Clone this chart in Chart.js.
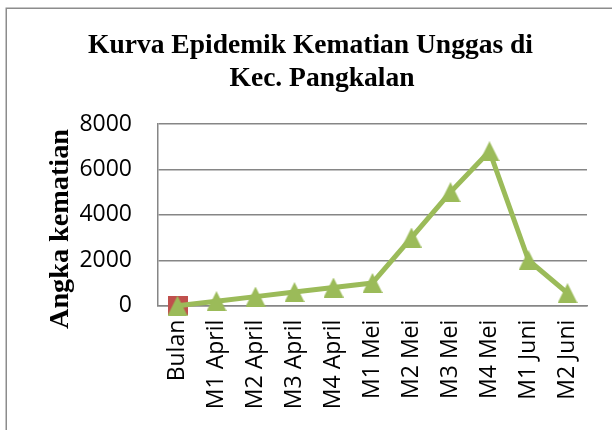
<!DOCTYPE html>
<html><head><meta charset="utf-8">
<script src="https://cdn.jsdelivr.net/npm/chart.js@4/dist/chart.umd.min.js"></script>
<style>html,body{margin:0;padding:0;background:#fff;overflow:hidden}canvas{display:block}</style>
</head><body>
<canvas id="c" width="612" height="430"></canvas>
<script>
const categories = ["Bulan","M1 April","M2 April","M3 April","M4 April","M1 Mei","M2 Mei","M3 Mei","M4 Mei","M1 Juni","M2 Juni"];
const deaths = [0,200,400,600,800,1000,3000,5000,6800,2000,550];
const bulanSeries = [0,null,null,null,null,null,null,null,null,null,null];
const yTickMin = 0, yTickMax = 8000, yTickStep = 2000;
const chartTitle = ["Kurva Epidemik Kematian Unggas di","Kec. Pangkalan"];
const yTitle = "Angka kematian";

const serif = "'Liberation Serif', 'DejaVu Serif', serif";
const sans = "'Open Sans', sans-serif";

function marker(shape, color, w, h){
  const c = document.createElement('canvas'); c.width = w; c.height = h;
  const x = c.getContext('2d'); x.fillStyle = color;
  if (shape === 'tri'){ x.beginPath(); x.moveTo(w/2,0); x.lineTo(w,h); x.lineTo(0,h); x.closePath(); x.fill(); }
  else x.fillRect(0,0,w,h);
  return c;
}

function fitFont(ctx, text, target){
  ctx.font = "bold 20px " + serif;
  const s = 20 * target / ctx.measureText(text).width;
  return "bold " + s.toFixed(2) + "px " + serif;
}

const framePlugin = {
  id:'frame',
  beforeDraw(chart){
    const ctx = chart.ctx; ctx.save();
    ctx.fillStyle = '#fff'; ctx.fillRect(0,0,chart.width,chart.height);
    ctx.strokeStyle = '#8c8c8c'; ctx.lineWidth = 1.5;
    ctx.beginPath(); ctx.moveTo(6.25, 440); ctx.lineTo(6.25, 8.25); ctx.lineTo(620, 8.25); ctx.stroke();
    ctx.restore();
  },
  afterDraw(chart){
    const ctx = chart.ctx; ctx.save();
    ctx.fillStyle = '#000'; ctx.textAlign = 'center'; ctx.textBaseline = 'middle';
    ctx.font = fitFont(ctx, chartTitle[0], 445);
    ctx.fillText(chartTitle[0], 310.5, 46);
    ctx.fillText(chartTitle[1], 322, 79);
    ctx.restore();
    ctx.save();
    ctx.translate(61, 229); ctx.rotate(-Math.PI/2);
    ctx.font = fitFont(ctx, yTitle, 200); ctx.fillStyle = '#000';
    ctx.textAlign = 'center'; ctx.textBaseline = 'middle';
    ctx.fillText(yTitle, 0, 0);
    ctx.restore();
  }
};

function build(){
  const triImg = marker('tri','#9bbb59',20,20);
  const sqImg = marker('sq','#c0504d',20,19);
  new Chart(document.getElementById('c'), {
    type:'line',
    data:{
      labels: categories,
      datasets:[
        {label:'Kematian', data: deaths, borderColor:'#9bbb59', backgroundColor:'#9bbb59', borderWidth:5,
         borderJoinStyle:'round', pointStyle: triImg, pointRadius:10, tension:0, order:0, clip:false},
        {label:'Bulan', data: bulanSeries, showLine:false, pointStyle: sqImg, pointRadius:10, order:1, clip:false,
         borderColor:'#c0504d', backgroundColor:'#c0504d'}
      ]
    },
    options:{
      responsive:false, animation:false, devicePixelRatio:1,
      layout:{padding:{left:0,right:25,top:124,bottom:0}},
      plugins:{
        legend:{display:false}, tooltip:{enabled:false},
        title:{display:false}
      },
      scales:{
        x:{ offset:true,
          grid:{display:false, offset:true},
          border:{display:true, color:'#868686', width:1.5},
          ticks:{autoSkip:false, maxRotation:90, minRotation:90, padding:6, color:'#000', font:{family: sans, size:23}},
          afterFit(s){ s.height = 430 - 305.7; }
        },
        y:{ min:yTickMin, max:yTickMax,
          grid:{color:'#868686', lineWidth:1.5, drawTicks:false},
          border:{display:true, color:'#868686', width:1.5},
          ticks:{stepSize:yTickStep, padding:26, color:'#000', font:{family: sans, size:23}, callback: v => String(v)},
          afterFit(s){ s.width = 158; }
        }
      }
    },
    plugins:[framePlugin]
  });
}

Promise.all([
  document.fonts.load("23px 'Open Sans'"),
  document.fonts.load("bold 22px 'Liberation Serif'")
]).catch(()=>{}).then(build);
</script>
</body></html>
